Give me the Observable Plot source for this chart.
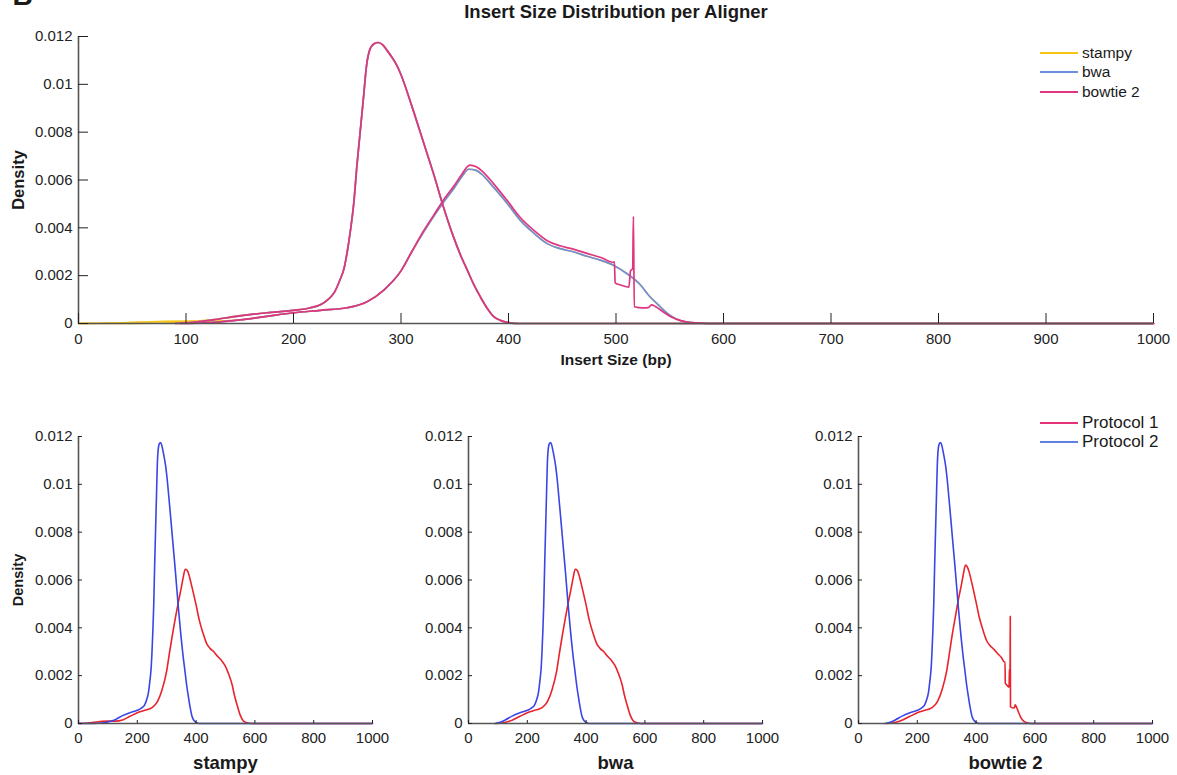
<!DOCTYPE html>
<html><head><meta charset="utf-8">
<script src="https://cdn.jsdelivr.net/npm/d3@7"></script>
<script src="https://cdn.jsdelivr.net/npm/@observablehq/plot@0.6"></script>
<style>
body{margin:0;background:#fff;}
#wrap{position:relative;width:1177px;height:775px;overflow:hidden;font-family:"Liberation Sans",Arial,sans-serif;background:#fff;}
.plot{position:absolute;}
.legend{position:absolute;color:#1a1a1a;}
.legend .row{display:flex;align-items:center;}
.legend .sw{width:38px;height:0;border-top:2.5px solid;margin-right:4px;}
</style></head><body><div id="wrap"></div>
<script>
// ---------- data: [insert size (bp), density] ----------
const aligners = ["stampy", "bwa", "bowtie 2"];
const protocols = ["Protocol 1", "Protocol 2"];

const stampyP1 = [[0,0],[20,0.00001],[40,0.00003],[60,0.00006],[80,0.00009],[100,0.0001],[125,0.0001],[150,0.00015],[175,0.0003],[200,0.00045],[225,0.00055],[250,0.00066],[268,0.0009],[284,0.0014],[300,0.0022],[310,0.003],[320,0.00375],[330,0.00445],[340,0.0051],[350,0.0057],[356,0.0061],[363,0.00645],[370,0.0064],[376,0.0062],[386,0.0057],[399,0.00501],[411,0.00431],[424,0.00376],[436,0.00334],[448,0.00313],[461,0.00299],[473,0.00281],[486,0.00264],[498,0.00243],[510,0.00209],[523,0.0016],[530,0.0012],[540,0.00075],[550,0.00035],[560,0.00012],[570,0.00004],[580,0.00001],[590,0],[1000,0]];
const stampyP2 = [[0,0],[50,0],[80,0.00002],[100,0.00006],[125,0.00016],[150,0.00033],[175,0.00045],[200,0.00055],[215,0.00065],[225,0.00078],[232,0.001],[238,0.0013],[243,0.0018],[247,0.0023],[250,0.003],[253,0.0039],[256,0.005],[259,0.0066],[262,0.008],[265,0.0094],[268,0.0108],[271,0.01145],[275,0.0117],[279,0.01175],[283,0.01165],[287,0.01142],[292,0.0111],[296,0.0108],[300,0.0104],[310,0.0091],[320,0.0077],[330,0.0063],[340,0.0048],[349,0.0036],[355,0.0029],[362,0.0022],[368,0.0016],[374,0.0011],[380,0.00065],[386,0.0003],[393,0.00012],[400,0.00004],[410,0],[1000,0]];

const bwaP1 = [[95,0],[115,0.00002],[130,0.00006],[150,0.00015],[175,0.0003],[200,0.00045],[225,0.00055],[250,0.00066],[268,0.0009],[284,0.0014],[300,0.0022],[310,0.003],[320,0.00375],[330,0.00445],[340,0.0051],[350,0.0057],[356,0.0061],[363,0.00645],[370,0.0064],[376,0.0062],[386,0.0057],[399,0.00501],[411,0.00431],[424,0.00376],[436,0.00334],[448,0.00313],[461,0.00299],[473,0.00281],[486,0.00264],[498,0.00243],[510,0.00209],[523,0.0016],[530,0.0012],[540,0.00075],[550,0.00035],[560,0.00012],[570,0.00004],[580,0.00001],[590,0],[1000,0]];
const bwaP2 = [[90,0],[110,0.00006],[125,0.00015],[150,0.00032],[175,0.00045],[200,0.00055],[215,0.00065],[225,0.00078],[232,0.001],[238,0.0013],[243,0.0018],[247,0.0023],[250,0.003],[253,0.0039],[256,0.005],[259,0.0066],[262,0.008],[265,0.0094],[268,0.0108],[271,0.01145],[275,0.0117],[279,0.01175],[283,0.01165],[287,0.01142],[292,0.0111],[296,0.0108],[300,0.0104],[310,0.0091],[320,0.0077],[330,0.0063],[340,0.0048],[349,0.0036],[355,0.0029],[362,0.0022],[368,0.0016],[374,0.0011],[380,0.00065],[386,0.0003],[393,0.00012],[400,0.00004],[410,0],[1000,0]];

const bowtieP1 = [[95,0],[115,0.00002],[130,0.00006],[150,0.00015],[175,0.0003],[200,0.00045],[225,0.00055],[250,0.00066],[268,0.0009],[284,0.0014],[300,0.0022],[310,0.003],[320,0.0038],[330,0.0045],[340,0.0052],[350,0.0058],[356,0.0062],[364,0.00662],[370,0.00655],[376,0.00635],[386,0.00585],[399,0.00513],[411,0.00443],[424,0.00388],[436,0.00346],[448,0.00325],[461,0.0031],[473,0.00293],[486,0.00276],[497,0.00256],[498.5,0.00258],[499.2,0.0017],[505,0.0016],[512,0.00152],[513.5,0.0022],[515.5,0.0023],[516.2,0.00448],[517,0.0007],[525,0.00065],[530,0.00066],[533,0.00078],[537,0.0007],[545,0.00045],[551,0.00028],[560,0.00012],[570,0.00004],[580,0.00001],[590,0],[1000,0]];
const bowtieP2 = [[90,0],[110,0.00006],[125,0.00015],[150,0.00032],[175,0.00045],[200,0.00055],[215,0.00065],[225,0.00078],[232,0.001],[238,0.0013],[243,0.0018],[247,0.0023],[250,0.003],[253,0.0039],[256,0.005],[259,0.0066],[262,0.008],[265,0.0094],[268,0.0108],[271,0.01145],[275,0.0117],[279,0.01175],[283,0.01165],[287,0.01142],[292,0.0111],[296,0.0108],[300,0.0104],[310,0.0091],[320,0.0077],[330,0.0063],[340,0.0048],[349,0.0036],[355,0.0029],[362,0.0022],[368,0.0016],[374,0.0011],[380,0.00065],[386,0.0003],[393,0.00012],[400,0.00004],[410,0],[1000,0]];

const xTicksTop = [0,100,200,300,400,500,600,700,800,900,1000];
const xTicksBottom = [0,200,400,600,800,1000];
const yTicks = [0,0.002,0.004,0.006,0.008,0.01,0.012];

const alignerColors = ["#f5c518", "#6d8fe0", "#e0357f"];
const protocolColors = ["#e8232b", "#3b45e6"];
const protocolLegendColors = ["#e5337a", "#5f7fe2"];

const series = {
  "stampy": [stampyP1, stampyP2],
  "bwa": [bwaP1, bwaP2],
  "bowtie 2": [bowtieP1, bowtieP2]
};

// ---------- drawing ----------
const FONT = '"Liberation Sans", Arial, sans-serif';
const wrap = document.getElementById("wrap");
const fmtY = d3.format("~g");
const fmtX = d => String(d);
const lineOpts = (stroke, w) => ({x: d => d[0], y: d => d[1], stroke, strokeWidth: w, curve: "monotone-x"});

// top panel
const topMarks = [];
aligners.forEach((a, i) => {
  series[a].forEach(s => topMarks.push(Plot.line(s, lineOpts(alignerColors[i], 1.7))));
});
const topPlot = Plot.plot({
  width: 1177, height: 370,
  marginLeft: 78, marginRight: 24, marginTop: 36, marginBottom: 47,
  style: {fontFamily: FONT, fontSize: "15px", color: "#1a1a1a", background: "transparent", overflow: "visible"},
  x: {domain: [0, 1000]},
  y: {domain: [0, 0.012]},
  marks: [
    ...topMarks,
    Plot.ruleX([0], {stroke: "#555", strokeWidth: 1.6}),
    Plot.ruleY([0], {stroke: "#555", strokeWidth: 1.6}),
    Plot.axisX(xTicksTop, {tickSize: -10, tickPadding: 20, tickFormat: fmtX, label: null, color: "#222"}),
    Plot.axisY(yTicks, {tickSize: -10, tickPadding: 16, tickFormat: fmtY, label: null, color: "#222"}),
    Plot.text(["Insert Size Distribution per Aligner"], {text: d => d, frameAnchor: "top", dy: -24, lineAnchor: "middle", fontWeight: "bold", fontSize: 18.5}),
    Plot.text(["Insert Size (bp)"], {text: d => d, frameAnchor: "bottom", dy: 37, lineAnchor: "middle", fontWeight: "bold", fontSize: 15.5}),
    Plot.text(["Density"], {text: d => d, frameAnchor: "left", dx: -60, rotate: -90, textAnchor: "middle", fontWeight: "bold", fontSize: 16.5}),
    Plot.text(["B"], {text: d => d, frameAnchor: "top-left", dx: -66, dy: -32, textAnchor: "start", lineAnchor: "bottom", fontWeight: "bold", fontSize: 28})
  ]
});
topPlot.classList.add("plot");
topPlot.style.left = "0px"; topPlot.style.top = "0px";
wrap.appendChild(topPlot);

// bottom panels
aligners.forEach((a, i) => {
  const marks = [
    Plot.line(series[a][0], lineOpts(protocolColors[0], 1.6)),
    Plot.line(series[a][1], lineOpts(protocolColors[1], 1.6)),
    Plot.ruleX([0], {stroke: "#555", strokeWidth: 1.6}),
    Plot.ruleY([0], {stroke: "#555", strokeWidth: 1.6}),
    Plot.axisX(xTicksBottom, {tickSize: -3, tickPadding: 12, tickFormat: fmtX, label: null, color: "#222"}),
    Plot.axisY(yTicks, {tickSize: -4, tickPadding: 10, tickFormat: fmtY, label: null, color: "#222"}),
    Plot.text([a], {text: d => d, frameAnchor: "bottom", dy: 40, lineAnchor: "middle", fontWeight: "bold", fontSize: 18.5})
  ];
  if (i === 0) marks.push(Plot.text(["Density"], {text: d => d, frameAnchor: "left", dx: -60, rotate: -90, textAnchor: "middle", fontWeight: "bold", fontSize: 14.5}));
  const p = Plot.plot({
    width: 390, height: 385,
    marginLeft: 78, marginRight: 18, marginTop: 46, marginBottom: 52,
    style: {fontFamily: FONT, fontSize: "15px", color: "#1a1a1a", background: "transparent", overflow: "visible"},
    x: {domain: [0, 1000]},
    y: {domain: [0, 0.012]},
    marks
  });
  p.classList.add("plot");
  p.style.left = (390 * i) + "px"; p.style.top = "390px";
  wrap.appendChild(p);
});

// legends (HTML)
function legend(labels, colors, left, top, size, rowH) {
  const div = document.createElement("div");
  div.className = "legend";
  div.style.left = left + "px"; div.style.top = top + "px";
  div.style.fontSize = size + "px";
  labels.forEach((l, i) => {
    const row = document.createElement("div"); row.className = "row";
    row.style.height = rowH + "px";
    const sw = document.createElement("span"); sw.className = "sw"; sw.style.borderColor = colors[i];
    const t = document.createElement("span"); t.textContent = l;
    row.appendChild(sw); row.appendChild(t); div.appendChild(row);
  });
  wrap.appendChild(div);
}
legend(aligners, alignerColors, 1040, 43, 15.5, 19.5);
legend(protocols, protocolLegendColors, 1040, 413, 17, 19);
</script>
</body></html>
